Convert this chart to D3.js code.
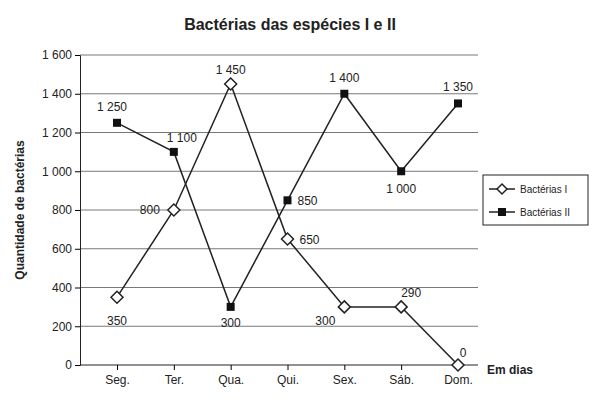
<!DOCTYPE html><html><head><meta charset="utf-8"><script src="https://cdn.jsdelivr.net/npm/d3@7"></script>
<style>body{margin:0;background:#fff}text{font-family:Arial,"Liberation Sans",sans-serif}</style></head><body><svg id="c" width="598" height="400"></svg>
<script>
const categories=["Seg.","Ter.","Qua.","Qui.","Sex.","Sáb.","Dom."];
const bacteriasI=[350,800,1450,650,300,300,0];
const bacteriasII=[1250,1100,300,850,1400,1000,1350];
const yTicks=[0,200,400,600,800,1000,1200,1400,1600];
const yTickLabels=["0","200","400","600","800","1 000","1 200","1 400","1 600"];
const labelsI=["350","800","1 450","650","300","290","0"];
const labelsII=["1 250","1 100","300","850","1 400","1 000","1 350"];
// label offsets (dx,dy)
const offI=[[0,28],[-24,4],[0,-10],[22,5],[-19,18],[10,-10],[5,-8]];
const offII=[[-5,-12],[8,-10],[0,20],[20,5],[0,-12],[0,22],[0,-12]];
const svg=d3.select("#c");
const x=d3.scalePoint().domain(categories).range([117,458]);
const y=d3.scaleLinear().domain([0,1600]).range([365,55]);
const L=80,R=478;
svg.append("text").attr("x",290).attr("y",30).attr("text-anchor","middle").attr("font-size",16).attr("font-weight","bold").attr("fill","#222").text("Bactérias das espécies I e II");
svg.append("g").selectAll("line").data(yTicks.slice(1)).join("line").attr("x1",L).attr("x2",R).attr("y1",d=>y(d)).attr("y2",d=>y(d)).attr("stroke","#555").attr("stroke-width",0.8);
const ya=svg.append("g").attr("transform",`translate(${L},0)`).call(d3.axisLeft(y).tickValues(yTicks).tickFormat((d,i)=>yTickLabels[i]).tickSize(5));
ya.select(".domain").attr("stroke","#222");
ya.selectAll("text").attr("font-size",12).attr("fill","#222");
const xa=svg.append("g").attr("transform",`translate(0,${y(0)})`).call(d3.axisBottom(x).tickSize(5).tickSizeOuter(0));
xa.select(".domain").attr("d",`M${L},0H${R}`).attr("stroke","#222");
xa.selectAll("text").attr("font-size",12).attr("fill","#222").attr("dy","0.9em");
svg.append("text").attr("transform","translate(24,210) rotate(-90)").attr("text-anchor","middle").attr("font-size",12).attr("font-weight","bold").attr("fill","#222").text("Quantidade de bactérias");
svg.append("text").attr("x",487).attr("y",374).attr("font-size",12).attr("font-weight","bold").attr("fill","#222").text("Em dias");
const line=d3.line().x((d,i)=>x(categories[i])).y(d=>y(d));
svg.append("path").attr("d",line(bacteriasII)).attr("fill","none").attr("stroke","#222").attr("stroke-width",1.5);
svg.append("path").attr("d",line(bacteriasI)).attr("fill","none").attr("stroke","#222").attr("stroke-width",1.5);
svg.append("g").selectAll("rect").data(bacteriasII).join("rect").attr("x",(d,i)=>x(categories[i])-4).attr("y",d=>y(d)-4).attr("width",8).attr("height",8).attr("fill","#111");
svg.append("g").selectAll("path").data(bacteriasI).join("path").attr("d","M0,-6L6,0L0,6L-6,0Z").attr("transform",(d,i)=>`translate(${x(categories[i])},${y(d)})`).attr("fill","#fff").attr("stroke","#222").attr("stroke-width",1.5);
svg.append("g").selectAll("text").data(bacteriasI).join("text").attr("x",(d,i)=>x(categories[i])+offI[i][0]).attr("y",(d,i)=>y(d)+offI[i][1]).attr("text-anchor","middle").attr("font-size",12).attr("fill","#222").text((d,i)=>labelsI[i]);
svg.append("g").selectAll("text").data(bacteriasII).join("text").attr("x",(d,i)=>x(categories[i])+offII[i][0]).attr("y",(d,i)=>y(d)+offII[i][1]).attr("text-anchor","middle").attr("font-size",12).attr("fill","#222").text((d,i)=>labelsII[i]);
const lg=svg.append("g");
lg.append("rect").attr("x",483).attr("y",175).attr("width",105).attr("height",50).attr("fill","#fff").attr("stroke","#222");
lg.append("line").attr("x1",489).attr("x2",515).attr("y1",189).attr("y2",189).attr("stroke","#222").attr("stroke-width",1.5);
lg.append("path").attr("d","M0,-5L5,0L0,5L-5,0Z").attr("transform","translate(502,189)").attr("fill","#fff").attr("stroke","#222").attr("stroke-width",1.5);
lg.append("line").attr("x1",489).attr("x2",515).attr("y1",212).attr("y2",212).attr("stroke","#222").attr("stroke-width",1.5);
lg.append("rect").attr("x",498).attr("y",208).attr("width",8).attr("height",8).attr("fill","#111");
lg.append("text").attr("x",520).attr("y",193).attr("font-size",10).attr("fill","#222").text("Bactérias I");
lg.append("text").attr("x",520).attr("y",216).attr("font-size",10).attr("fill","#222").text("Bactérias II");
</script></body></html>
